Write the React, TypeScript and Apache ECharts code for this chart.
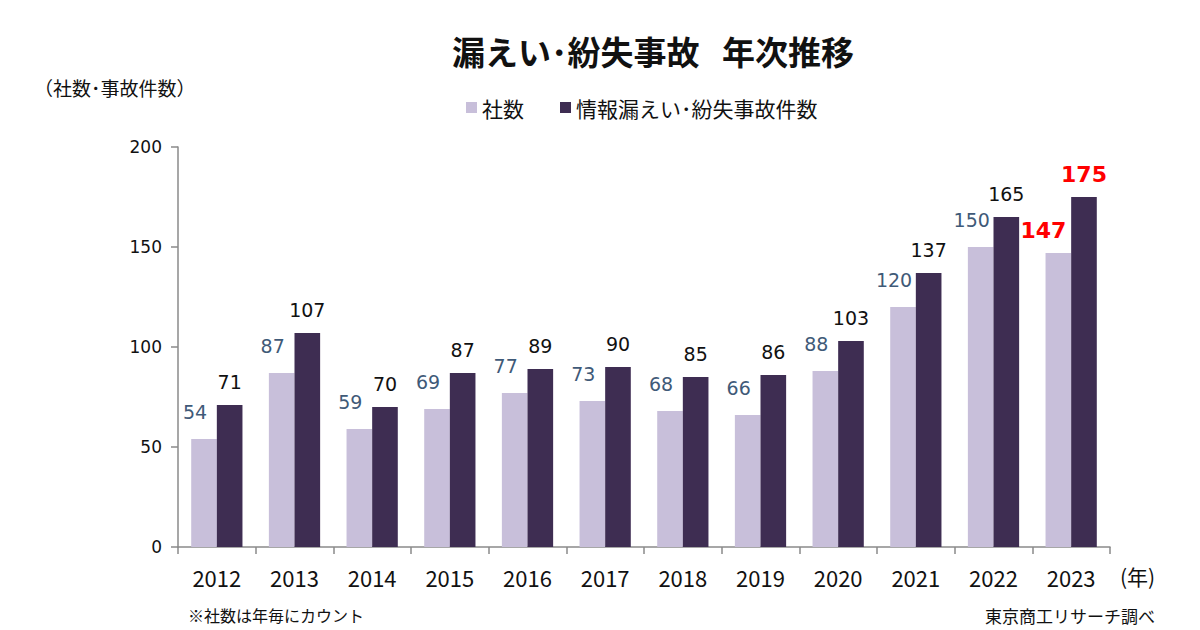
import React, { useEffect, useRef } from "react";
import * as echarts from "echarts";

const years = ["2012", "2013", "2014", "2015", "2016", "2017", "2018", "2019", "2020", "2021", "2022", "2023"];
const companies = [54, 87, 59, 69, 77, 73, 68, 66, 88, 120, 150, 147];
const incidents = [71, 107, 70, 87, 89, 90, 85, 86, 103, 137, 165, 175];
const highlightIndex = 11;

const JP = "'Noto Sans CJK JP', 'Noto Sans', sans-serif";
const NUM = "'DejaVu Sans', Verdana, sans-serif";

export default function App() {
  const ref = useRef<HTMLDivElement>(null);
  useEffect(() => {
    if (!ref.current) return;
    const chart = echarts.init(ref.current, null, { renderer: "svg" });
    const redLabel = (dx: number) => ({
      color: "#FF0000",
      fontWeight: "bold",
      fontSize: 22,
      distance: 12,
      offset: [dx, 0],
    });
    chart.setOption({
      animation: false,
      backgroundColor: "#ffffff",
      title: {
        text: "漏えい･紛失事故   年次推移",
        left: 648,
        textAlign: "center",
        top: 29,
        textStyle: { fontFamily: JP, fontSize: 33, fontWeight: "bold", color: "#111" },
      },
      legend: {
        left: 461,
        top: 92,
        itemWidth: 11,
        itemHeight: 11,
        itemGap: 36,
        icon: "rect",
        textStyle: { fontFamily: JP, fontSize: 21, color: "#111", padding: [0, 0, 0, 0] },
        data: ["社数", "情報漏えい･紛失事故件数"],
      },
      grid: { left: 178, right: 90, top: 147, height: 400 },
      xAxis: {
        type: "category",
        data: years,
        axisLine: { lineStyle: { color: "#8a8a8a", width: 1.5 } },
        axisTick: { show: true, length: 7, lineStyle: { color: "#8a8a8a", width: 1.5 } },
        axisLabel: { margin: 19, fontFamily: JP, fontSize: 22, color: "#111" },
      },
      yAxis: {
        type: "value",
        min: 0,
        max: 200,
        interval: 50,
        splitLine: { show: false },
        axisLine: { show: true, lineStyle: { color: "#8a8a8a", width: 1.5 } },
        axisTick: { show: true, length: 7, lineStyle: { color: "#8a8a8a", width: 1.5 } },
        axisLabel: { margin: 16, fontFamily: NUM, fontSize: 17, color: "#111" },
      },
      series: [
        {
          name: "社数",
          type: "bar",
          barGap: "0%",
          barCategoryGap: "34%",
          itemStyle: { color: "#C8BFDA" },
          label: {
            show: true,
            position: "top",
            distance: 18,
            offset: [-9, 0],
            fontFamily: NUM,
            fontSize: 19,
            color: "#3F5A78",
          },
          data: companies.map((v, i) =>
            i === highlightIndex ? { value: v, label: redLabel(-15) } : v
          ),
        },
        {
          name: "情報漏えい･紛失事故件数",
          type: "bar",
          itemStyle: { color: "#3E2D52" },
          label: {
            show: true,
            position: "top",
            distance: 14,
            fontFamily: NUM,
            fontSize: 19,
            color: "#111",
          },
          data: incidents.map((v, i) =>
            i === highlightIndex ? { value: v, label: redLabel(0) } : v
          ),
        },
      ],
      graphic: [
        {
          type: "text",
          left: 34,
          top: 78,
          style: { text: "（社数･事故件数）", font: `19px ${JP}`, fill: "#111" },
        },
        {
          type: "text",
          left: 1120,
          top: 565,
          style: { text: "(年)", font: `21px ${JP}`, fill: "#111" },
        },
        {
          type: "text",
          left: 188,
          top: 607,
          style: { text: "※社数は年毎にカウント", font: `16px ${JP}`, fill: "#111" },
        },
        {
          type: "text",
          left: 985,
          top: 607,
          style: { text: "東京商工リサーチ調べ", font: `17px ${JP}`, fill: "#111" },
        },
      ],
    });
    return () => chart.dispose();
  }, []);
  return (
    <div
      ref={ref}
      style={{ position: "fixed", left: 0, top: 0, width: 1200, height: 630, background: "#fff" }}
    />
  );
}
